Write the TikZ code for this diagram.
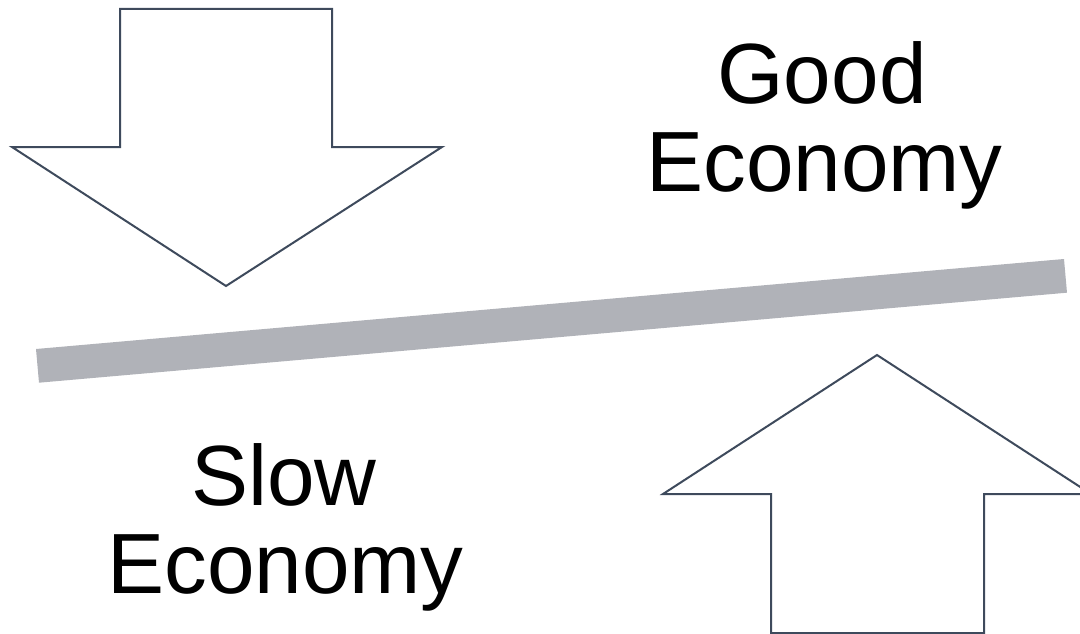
\documentclass[tikz,border=0pt]{standalone}
\usepackage{fontspec}
\setmainfont{Liberation Sans}
\definecolor{outline}{HTML}{3E4A5C}
\definecolor{barcol}{HTML}{B0B2B8}
\begin{document}
\begin{tikzpicture}[x=1pt,y=-1pt,
  arrowshape/.style={draw=outline,line width=2pt,fill=white,line join=miter},
  label/.style={font=\fontsize{85.5}{88}\selectfont,inner sep=0pt,anchor=base,text=black}]
\useasboundingbox (0,0) rectangle (1080,634);
\clip (0,0) rectangle (1080,634);
% down arrow
\draw[arrowshape] (120,9) -- (332,9) -- (332,147) -- (442,147) -- (226,286) -- (12,147) -- (120,147) -- cycle;
% up arrow
\draw[arrowshape] (771,633) -- (771,494) -- (663,494) -- (877,355) -- (1091,494) -- (984,494) -- (984,633) -- cycle;
% bar
\fill[barcol] (36,349) -- (1064,259) -- (1067,292.7) -- (39,382.7) -- cycle;
% labels
\node[label] (good1) at (822,103) {Good};
\node[label] (good2) at (824.5,191) {Economy};
\node[label] (slow1) at (284,505) {Slow};
\node[label] (slow2) at (285.5,593) {Economy};
\end{tikzpicture}
\end{document}
